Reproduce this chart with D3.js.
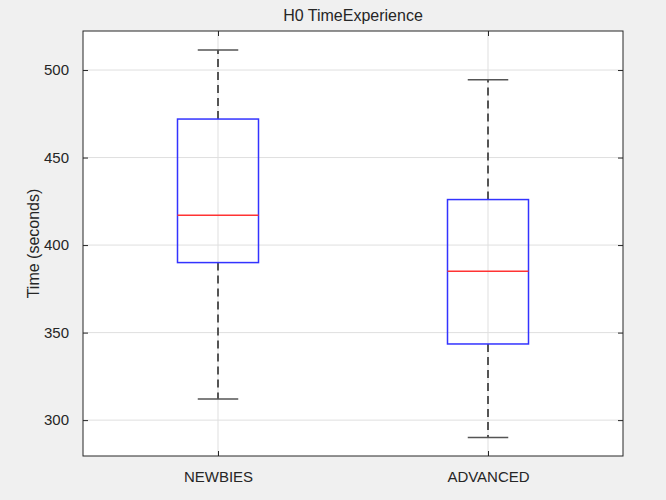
<!DOCTYPE html>
<html>
<head>
<meta charset="utf-8">
<script src="https://cdn.jsdelivr.net/npm/d3@7"></script>
<style>
  body { margin: 0; background: #f0f0f0; }
  text { font-family: "Liberation Sans", Arial, sans-serif; fill: #262626; }
</style>
</head>
<body>
<div id="chart"></div>
<script>
var groups = ['NEWBIES', 'ADVANCED'];
var whiskerLow = [312, 290];
var q1 = [390, 343.5];
var medians = [417, 385];
var q3 = [472, 426];
var whiskerHigh = [511.5, 494.5];
var yTicks = [300, 350, 400, 450, 500];

var width = 666, height = 500;
var margin = { top: 31, right: 43, bottom: 44, left: 83 };
var w = width - margin.left - margin.right;
var h = height - margin.top - margin.bottom;

var svg = d3.select('#chart').append('svg')
    .attr('width', width).attr('height', height);

svg.append('rect').attr('width', width).attr('height', height).attr('fill', '#f0f0f0');

var g = svg.append('g').attr('transform', 'translate(' + margin.left + ',' + margin.top + ')');

var x = d3.scaleLinear().domain([0.5, 2.5]).range([0, w]);
var y = d3.scaleLinear().domain([279.5, 522.3]).range([h, 0]);

g.append('rect').attr('width', w).attr('height', h).attr('fill', '#fff');

// grid
g.selectAll('.hgrid').data(yTicks).enter().append('line')
    .attr('x1', 0).attr('x2', w)
    .attr('y1', function(d) { return y(d); }).attr('y2', function(d) { return y(d); })
    .attr('stroke', '#dfdfdf').attr('stroke-width', 1);
g.selectAll('.vgrid').data(groups).enter().append('line')
    .attr('x1', function(d, i) { return x(i + 1); }).attr('x2', function(d, i) { return x(i + 1); })
    .attr('y1', 0).attr('y2', h)
    .attr('stroke', '#dfdfdf').attr('stroke-width', 1);

var boxHalf = 0.15, capHalf = 0.075;
var idx = d3.range(groups.length);

// whiskers
g.selectAll('.wup').data(idx).enter().append('line')
    .attr('x1', function(i) { return x(i + 1); }).attr('x2', function(i) { return x(i + 1); })
    .attr('y1', function(i) { return y(q3[i]); }).attr('y2', function(i) { return y(whiskerHigh[i]); })
    .attr('stroke', '#555').attr('stroke-width', 2).attr('stroke-dasharray', '8,5');
g.selectAll('.wdn').data(idx).enter().append('line')
    .attr('x1', function(i) { return x(i + 1); }).attr('x2', function(i) { return x(i + 1); })
    .attr('y1', function(i) { return y(q1[i]); }).attr('y2', function(i) { return y(whiskerLow[i]); })
    .attr('stroke', '#555').attr('stroke-width', 2).attr('stroke-dasharray', '8,5');

// caps
[whiskerHigh, whiskerLow].forEach(function(arr) {
  g.selectAll(null).data(idx).enter().append('line')
      .attr('x1', function(i) { return x(i + 1 - capHalf); })
      .attr('x2', function(i) { return x(i + 1 + capHalf); })
      .attr('y1', function(i) { return y(arr[i]); }).attr('y2', function(i) { return y(arr[i]); })
      .attr('stroke', '#555').attr('stroke-width', 1.5);
});

// boxes
g.selectAll('.box').data(idx).enter().append('rect')
    .attr('x', function(i) { return x(i + 1 - boxHalf); })
    .attr('width', function(i) { return x(i + 1 + boxHalf) - x(i + 1 - boxHalf); })
    .attr('y', function(i) { return y(q3[i]); })
    .attr('height', function(i) { return y(q1[i]) - y(q3[i]); })
    .attr('fill', 'none').attr('stroke', '#3333ff').attr('stroke-width', 1.5);

// medians
g.selectAll('.med').data(idx).enter().append('line')
    .attr('x1', function(i) { return x(i + 1 - boxHalf); })
    .attr('x2', function(i) { return x(i + 1 + boxHalf); })
    .attr('y1', function(i) { return y(medians[i]); }).attr('y2', function(i) { return y(medians[i]); })
    .attr('stroke', '#ff3333').attr('stroke-width', 1.5);

// axes
var yAxis = d3.axisLeft(y).tickValues(yTicks).tickSizeInner(-5).tickSizeOuter(0).tickPadding(14);
var yAxisR = d3.axisRight(y).tickValues(yTicks).tickSizeInner(-5).tickSizeOuter(0).tickFormat('');
var xAxis = d3.axisBottom(x).tickValues([1, 2]).tickSizeInner(-5).tickSizeOuter(0).tickPadding(15)
    .tickFormat(function(d) { return groups[d - 1]; });
var xAxisT = d3.axisTop(x).tickValues([1, 2]).tickSizeInner(-5).tickSizeOuter(0).tickFormat('');

function style(sel) {
  sel.selectAll('.domain').remove();
  sel.selectAll('line').attr('stroke', '#262626');
  sel.selectAll('text').attr('font-size', 15).attr('fill', '#262626')
      .style('font-family', '"Liberation Sans", Arial, sans-serif');
}

g.append('g').call(yAxis).call(style);
g.append('g').attr('transform', 'translate(' + w + ',0)').call(yAxisR).call(style);
g.append('g').attr('transform', 'translate(0,' + h + ')').call(xAxis).call(style);
g.append('g').call(xAxisT).call(style);

g.append('rect').attr('width', w).attr('height', h)
    .attr('fill', 'none').attr('stroke', '#262626').attr('stroke-width', 1);

// title and label
svg.append('text')
    .attr('x', margin.left + w / 2).attr('y', 21)
    .attr('text-anchor', 'middle').attr('font-size', 16)
    .text('H0 TimeExperience');

svg.append('text')
    .attr('transform', 'translate(39,' + (margin.top + h / 2) + ') rotate(-90)')
    .attr('text-anchor', 'middle').attr('font-size', 16)
    .text('Time (seconds)');
</script>
</body>
</html>
